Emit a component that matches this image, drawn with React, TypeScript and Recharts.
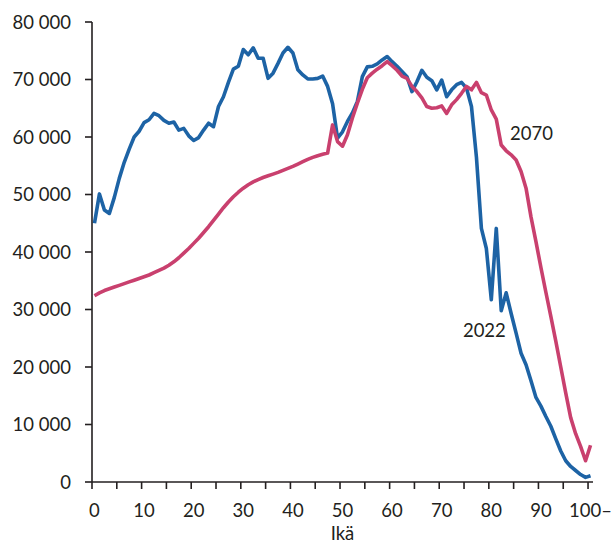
import React from "react";
import { LineChart, Line, XAxis, YAxis, ReferenceDot } from "recharts";

// Väestö iän mukaan, 2022 ja 2070 (arvot luettu kuvasta)
const ages = Array.from({ length: 101 }, (_, i) => i);

const pop2022 = [
  45000, 50100, 47300, 46700, 49500, 52800, 55600, 57900, 60000, 61000,
  62500, 63000, 64100, 63700, 62900, 62400, 62600, 61200, 61500, 60200,
  59400, 59900, 61200, 62400, 61800, 65300, 67000, 69500, 71800, 72300,
  75200, 74300, 75500, 73700, 73700, 70200, 71100, 72800, 74600, 75600,
  74600, 71700, 70800, 70100, 70100, 70200, 70600, 68800, 65800, 59800,
  60900, 62700, 64200, 66200, 70500, 72200, 72300, 72700, 73400, 74000,
  73100, 72300, 71400, 70500, 67900, 69600, 71600, 70400, 69800, 68200,
  69900, 67000, 68200, 69100, 69500, 68500, 65300, 56500, 44100, 40600,
  31700, 44100, 29800, 32900, 29300, 25900, 22400, 20400, 17600, 14700,
  13200, 11400, 9700, 7500, 5400, 3700, 2700, 2000, 1300, 800,
  1100,
];

const pop2070 = [
  32400, 32900, 33300, 33600, 33900, 34200, 34500, 34800, 35100, 35400,
  35700, 36000, 36400, 36800, 37200, 37700, 38300, 39000, 39800, 40600,
  41500, 42400, 43400, 44400, 45500, 46600, 47700, 48700, 49600, 50400,
  51100, 51700, 52200, 52600, 52950, 53250, 53550, 53850, 54200, 54550,
  54900, 55300, 55700, 56100, 56450, 56750, 57000, 57200, 62100, 59200,
  58400, 60400, 63300, 65900, 68300, 70300, 71100, 71800, 72400, 73100,
  72400, 71600, 70600, 70200, 68800, 67900, 66800, 65300, 65000, 65100,
  65400, 64100, 65600, 66500, 67600, 68800, 68200, 69500, 67700, 67300,
  64700, 63100, 58600, 57600, 56900, 56000, 54000, 51100, 46100, 41800,
  37300, 33000, 28800, 24500, 20000, 15500, 11200, 8400, 6200, 3700,
  6400,
];

const yTicks = [0, 10000, 20000, 30000, 40000, 50000, 60000, 70000, 80000];
const xLabelAges = [0, 10, 20, 30, 40, 50, 60, 70, 80, 90, 100];
const lastLabel = "100–";

// sarjojen nimet ja niiden paikat kuvassa (ikä, arvo)
const seriesLabels = [
  { text: "2070", age: 88.1, value: 60550 },
  { text: "2022", age: 78.6, value: 26300 },
];

const data = ages.map((age, i) => ({ age, y2022: pop2022[i], y2070: pop2070[i] }));

const W = 616;
const H = 546;
const LEFT = 92;
const RIGHT = 23;
const HALF_CAT = (W - LEFT - RIGHT) / 101 / 2;
const INK = "#231f20";
const FONT = "Lato, 'Open Sans', sans-serif";
const FS = 18.5;

// tick-viivat luokkien rajoilla, numerot luokan keskellä
const boundaryTicks = Array.from({ length: 21 }, (_, k) => k * 5 - 0.5);

const fmtThousands = (v: number) => String(v).replace(/\B(?=(\d{3})+(?!\d))/g, " ");

const AgeTick = (props: any) => {
  const { x, y, payload } = props;
  const age = payload.value + 0.5;
  if (!xLabelAges.includes(age)) return <g />;
  const label = age === 100 ? lastLabel : String(age);
  return (
    <text
      x={x + HALF_CAT}
      y={y}
      dy="0.71em"
      textAnchor="middle"
      fill={INK}
      fontSize={FS}
      fontFamily={FONT}
    >
      {label}
    </text>
  );
};

export default function App() {
  return (
    <div style={{ position: "absolute", left: 0, top: 0, background: "#fff" }}>
      <LineChart
        width={W}
        height={H}
        data={data}
        margin={{ top: 22, right: RIGHT, bottom: 0, left: 0 }}
        style={{ fontFamily: FONT }}
      >
        <XAxis
          dataKey="age"
          type="number"
          domain={[-0.5, 100.5]}
          ticks={boundaryTicks}
          interval={0}
          height={64}
          tick={<AgeTick />}
          tickSize={7}
          tickMargin={15}
          axisLine={{ stroke: INK, strokeWidth: 1.6 }}
          tickLine={{ stroke: INK, strokeWidth: 1.6 }}
          label={{
            value: "Ikä",
            position: "insideBottom",
            offset: 6,
            fill: INK,
            fontSize: FS,
            fontFamily: FONT,
          }}
        />
        <YAxis
          type="number"
          domain={[0, 80000]}
          ticks={yTicks}
          interval={0}
          width={LEFT}
          tickFormatter={fmtThousands}
          tickSize={7}
          tickMargin={14}
          tick={{ fill: INK, fontSize: FS, fontFamily: FONT }}
          axisLine={{ stroke: INK, strokeWidth: 1.6 }}
          tickLine={{ stroke: INK, strokeWidth: 1.6 }}
        />
        <Line
          dataKey="y2022"
          type="linear"
          stroke="#1d63a5"
          strokeWidth={3.6}
          strokeLinejoin="round"
          dot={false}
          activeDot={false}
          isAnimationActive={false}
        />
        <Line
          dataKey="y2070"
          type="linear"
          stroke="#c9406e"
          strokeWidth={3.6}
          strokeLinejoin="round"
          dot={false}
          activeDot={false}
          isAnimationActive={false}
        />
        {seriesLabels.map((s) => (
          <ReferenceDot
            key={s.text}
            x={s.age}
            y={s.value}
            r={0}
            fill="none"
            stroke="none"
            label={{
              value: s.text,
              position: "center",
              fill: INK,
              fontSize: FS,
              fontFamily: FONT,
            }}
          />
        ))}
      </LineChart>
    </div>
  );
}
